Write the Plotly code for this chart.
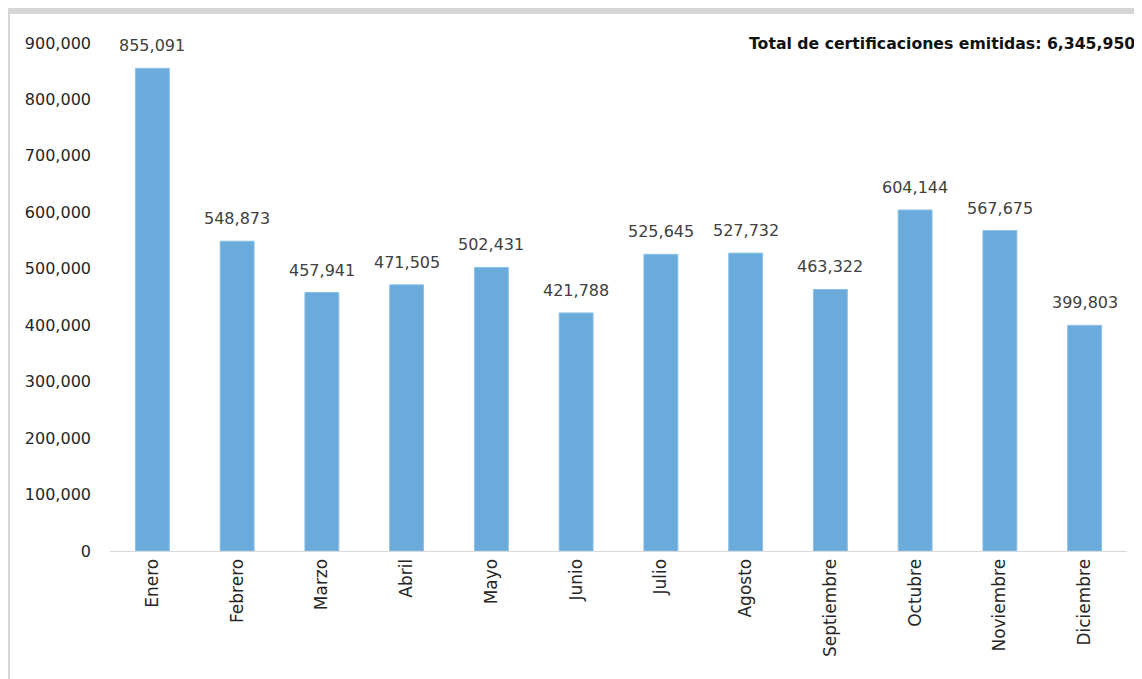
import plotly.graph_objects as go

# monthly certifications
months = ["Enero", "Febrero", "Marzo", "Abril", "Mayo", "Junio", "Julio",
          "Agosto", "Septiembre", "Octubre", "Noviembre", "Diciembre"]
values = [855091, 548873, 457941, 471505, 502431, 421788, 525645,
          527732, 463322, 604144, 567675, 399803]
tick_vals = [0, 100000, 200000, 300000, 400000, 500000, 600000, 700000, 800000, 900000]
total_label = "Total de certificaciones emitidas: 6,345,950"

BAR = "#6aabdb"
GRAY = "#d6d6d6"
FONT = "'DejaVu Sans', sans-serif"

fig = go.Figure(go.Bar(
    x=months, y=values,
    marker=dict(color=BAR, line=dict(color="#8cc0e6", width=1)),
    hovertemplate="%{x}: %{y:,}<extra></extra>",
))

# value labels sit a bit higher above the bars than plotly's outside text
for m, v in zip(months, values):
    fig.add_annotation(x=m, y=v, text=f"{v:,}", showarrow=False,
                       yanchor="bottom", yshift=11,
                       font=dict(family=FONT, size=16, color="#404040"))

# gray window frame (top and left edges of the screenshot)
fig.add_shape(type="rect", xref="paper", yref="paper",
              x0=-0.11, x1=1.02, y0=1.057, y1=1.08,
              fillcolor=GRAY, line=dict(width=0), layer="below")
fig.add_shape(type="rect", xref="paper", yref="paper",
              x0=-0.11, x1=-0.0983, y0=-0.3, y1=1.08,
              fillcolor=GRAY, line=dict(width=0), layer="below")

fig.add_annotation(
    text=f"<b>{total_label}</b>", xref="paper", yref="paper",
    x=1.0098, y=1.0, xanchor="right", yanchor="middle", showarrow=False,
    font=dict(family=FONT, size=15.7, color="#111111"),
)

# page has an 8px body margin, so the figure is sized to fit the window
fig.update_layout(
    width=1134, height=671,
    margin=dict(l=102, r=15, t=35, b=128),
    paper_bgcolor="white", plot_bgcolor="white",
    bargap=0.6, showlegend=False,
    xaxis=dict(
        tickangle=-90, showline=True, linecolor="#d9d9d9", linewidth=1,
        ticks="", showgrid=False,
        tickfont=dict(family=FONT, size=17, color="#262626"),
    ),
    yaxis=dict(
        range=[0, 900000], tickvals=tick_vals, tickformat=",d",
        showgrid=False, zeroline=False, showline=False, ticks="",
        ticklabelstandoff=18,
        tickfont=dict(family=FONT, size=16, color="#262626"),
    ),
)

fig.write_html("out.html")
